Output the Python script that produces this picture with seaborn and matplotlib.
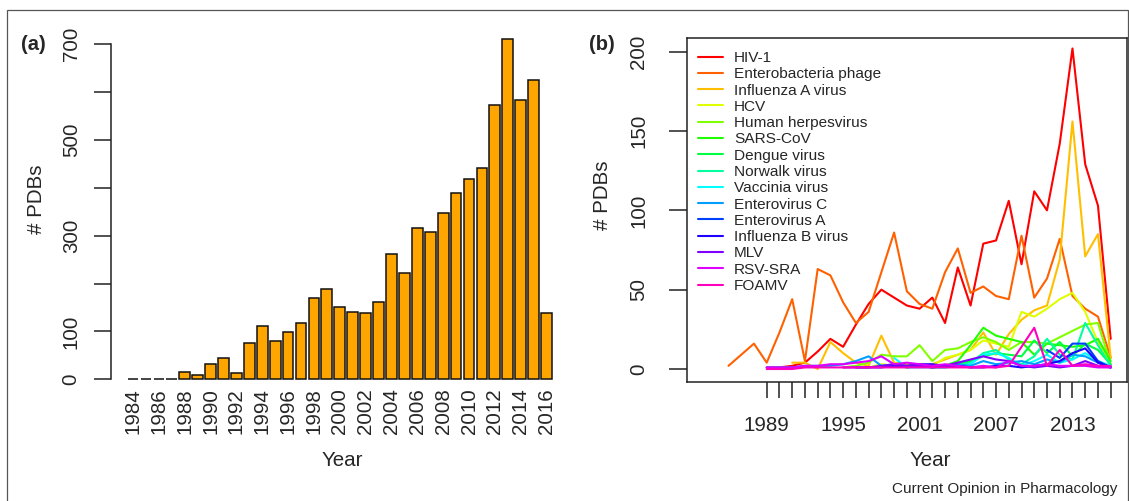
import numpy as np
import pandas as pd
import matplotlib
matplotlib.use("Agg")
import matplotlib.pyplot as plt
import seaborn as sns
from matplotlib.patches import Rectangle

N = np.nan

# ---------------- data ----------------
years = list(range(1984, 2017))
total_pdbs = [1, 1, 1, 1, 15, 9, 31, 45, 13, 76, 111, 81, 99, 118, 170, 189, 152,
              140, 138, 162, 261, 221, 316, 308, 347, 388, 418, 442, 572, 711, 584,
              624, 139]

virus_names = ["HIV-1", "Enterobacteria phage", "Influenza A virus", "HCV",
               "Human herpesvirus", "SARS-CoV", "Dengue virus", "Norwalk virus",
               "Vaccinia virus", "Enterovirus C", "Enterovirus A",
               "Influenza B virus", "MLV", "RSV-SRA", "FOAMV"]

hiv1 = [N]*5 + [1, 1, 2, 4, 11, 19, 14, 28, 41, 50, 45, 40, 38, 45, 29, 64, 40, 79,
                81, 106, 66, 112, 100, 142, 202, 129, 103, 19]
enterobacteria_phage = [N]*2 + [2, 9, 16, 4, 23, 44, 5, 63, 59, 42, 29, 36, 61, 86,
                                49, 41, 38, 61, 76, 48, 52, 46, 44, 84, 45, 57, 82,
                                46, 38, 33, 7]
influenza_a = [N]*7 + [4, 4, 0, 17, 10, 4, 2, 21, 4, 3, 2, 3, 6, 9, 12, 23, 9, 22,
                       31, 37, 40, 69, 156, 71, 85, 7]
hcv = [N]*13 + [1, 3, 2, 1, 3, 2, 7, 9, 12, 18, 16, 14, 36, 33, 38, 44, 48, 36, 17, 3]
human_herpesvirus = [N]*11 + [1, 2, 4, 9, 8, 8, 15, 5, 12, 13, 17, 20, 17, 12, 17,
                              17, 16, 20, 24, 28, 29, 3]
sars_cov = [N]*19 + [2, 5, 15, 26, 21, 19, 17, 9, 16, 15, 14, 15, 19, 5]
dengue = [N]*16 + [1, 2, 1, 2, 3, 5, 8, 10, 9, 8, 18, 10, 17, 8, 16, 12, 3]
norwalk = [N]*18 + [1, 1, 2, 4, 10, 12, 6, 3, 8, 19, 9, 6, 29, 15, 2]
vaccinia = [N]*15 + [7, 1, 1, 1, 1, 2, 3, 9, 10, 7, 2, 5, 9, 4, 6, 10, 5, 2]
enterovirus_c = [N]*5 + [1, 1, 1, 2, 2, 2, 3, 5, 8, 2, 3, 1, 2, 1, 2, 3, 2, 5, 3, 4,
                         5, 3, 6, 4, 9, 8, 4, 1]
enterovirus_a = [N]*27 + [12, 7, 16, 16, 5, 1]
influenza_b = [N]*12 + [1, 1, 1, 2, 2, 3, 3, 2, 2, 1, 1, 2, 2, 1, 2, 3, 5, 10, 13, 4, 1]
mlv = [N]*11 + [1, 1, 1, 2, 3, 2, 2, 1, 2, 4, 6, 8, 6, 5, 2, 1, 2, 1, 2, 5, 2, 1]
rsv_sra = [N]*5 + [1, 1, 1, 2, 2, 3, 3, 4, 5, 8, 3, 4, 3, 2, 3, 2, 1, 2, 1, 5, 2, 2,
                   3, 2, 2, 2, 1, 1]
foamv = [N]*5 + [0, 0, 0, 1, 1, 1, 1, 1, 1, 1, 1, 1, 1, 1, 1, 1, 1, 1, 1, 2, 14, 26,
                 2, 12, 2, 3, 2, 2]

series = [hiv1, enterobacteria_phage, influenza_a, hcv, human_herpesvirus, sars_cov,
          dengue, norwalk, vaccinia, enterovirus_c, enterovirus_a, influenza_b, mlv,
          rsv_sra, foamv]

line_colors = ["#FF0000", "#FF6000", "#FFBF00", "#DFFF00", "#80FF00", "#20FF00",
               "#00FF40", "#00FF9F", "#00FFFF", "#009FFF", "#0040FF", "#2000FF",
               "#8000FF", "#DF00FF", "#FF00BF"]

# ---------------- style ----------------
sns.set_style("white")
plt.rcParams["font.family"] = ["Liberation Sans", "DejaVu Sans"]

W, H = 1129, 501
fig = plt.figure(figsize=(W / 100, H / 100), dpi=100)


def px_axes(l, t, r, b):
    return fig.add_axes([l / W, 1 - b / H, (r - l) / W, (b - t) / H])


AX_COL = "#222222"
FS = 14.8

# ---------------- panel (a) ----------------
axa = px_axes(110.7, 25.1, 568.9, 381)
df_a = pd.DataFrame({"Year": [str(y) for y in years], "PDBs": total_pdbs})
sns.barplot(data=df_a, x="Year", y="PDBs", color="#FFA500", saturation=1,
            edgecolor="#111111", linewidth=1.1, width=0.833, ax=axa)
axa.set_xlim(-1.73, 33.73)
axa.set_ylim(-3.5, 739.4)
yt = list(range(0, 701, 100))
axa.set_yticks(yt)
axa.set_yticklabels([str(v) if v in (0, 100, 300, 500, 700) else "" for v in yt])
axa.set_xticks(range(len(years)))
axa.set_xticklabels([str(y) if y % 2 == 0 else "" for y in years])
for s in ["top", "right", "bottom"]:
    axa.spines[s].set_visible(False)
axa.spines["left"].set_bounds(0, 700)
axa.spines["left"].set_color(AX_COL)
axa.spines["left"].set_linewidth(1.1)
axa.tick_params(axis="x", length=0, pad=5.3, labelsize=FS, labelrotation=90)
axa.tick_params(axis="y", left=True, length=12.2, width=1.1, color=AX_COL, pad=9.4,
                labelsize=FS, labelrotation=90)
for t in axa.get_yticklabels():
    t.set_va("center")
axa.set_xlabel("")
axa.set_ylabel("")

# ---------------- panel (b) ----------------
axb = px_axes(686.7, 38, 1127, 381.7)
rows = []
for name, vals in zip(virus_names, series):
    for y, v in zip(years, vals):
        if not np.isnan(v):
            rows.append((name, y, v))
df_b = pd.DataFrame(rows, columns=["Virus", "Year", "PDBs"])
sns.lineplot(data=df_b, x="Year", y="PDBs", hue="Virus", hue_order=virus_names,
             palette=line_colors, estimator=None, linewidth=1.5, legend=False,
             ax=axb)
axb.set_xlim(1982.72, 2017.28)
axb.set_ylim(-8.0, 208.6)
xt = list(range(1989, 2017))
axb.set_xticks(xt)
axb.set_xticklabels([str(y) if (y - 1989) % 6 == 0 else "" for y in xt])
axb.set_yticks([0, 50, 100, 150, 200])
axb.set_yticklabels(["0", "50", "100", "150", "200"])
for s in axb.spines.values():
    s.set_visible(True)
    s.set_color(AX_COL)
    s.set_linewidth(1.1)
axb.tick_params(axis="x", bottom=True, length=11.5, width=1.1, color=AX_COL,
                pad=13.5, labelsize=FS)
axb.tick_params(axis="y", left=True, length=12.7, width=1.1, color=AX_COL, pad=15,
                labelsize=FS, labelrotation=90)
for t in axb.get_yticklabels():
    t.set_va("center")
axb.set_xlabel("")
axb.set_ylabel("")

handles = axb.get_lines()[:len(virus_names)]
axb.legend(handles, virus_names, loc="upper left",
           bbox_to_anchor=(698 / W, 1 - 51 / H), bbox_transform=fig.transFigure,
           frameon=False, fontsize=11.1, handlelength=1.62, handletextpad=0.73,
           labelspacing=0.148, borderpad=0, borderaxespad=0)

# ---------------- texts ----------------
fig.text(33.5 / W, 1 - 44 / H, "(a)", fontweight="bold", fontsize=14.5,
         ha="center", va="center")
fig.text(601.5 / W, 1 - 45 / H, "(b)", fontweight="bold", fontsize=14.5,
         ha="center", va="center")
fig.text(36 / W, 1 - 199 / H, "# PDBs", rotation=90, fontsize=FS,
         ha="center", va="center")
fig.text(603 / W, 1 - 195 / H, "# PDBs", rotation=90, fontsize=FS,
         ha="center", va="center")
fig.text(342 / W, 1 - 461 / H, "Year", fontsize=FS, ha="center", va="center")
fig.text(930 / W, 1 - 461 / H, "Year", fontsize=FS, ha="center", va="center")
fig.text(1117 / W, 1 - 489 / H, "Current Opinion in Pharmacology", fontsize=11,
         ha="right", va="center")

fig.add_artist(Rectangle((7 / W, -0.1), (1127.5 - 7) / W, (501 - 10) / H + 0.1,
                         transform=fig.transFigure, fill=False, ec="#555555",
                         lw=0.9))

fig.savefig("out.png", dpi=100)
